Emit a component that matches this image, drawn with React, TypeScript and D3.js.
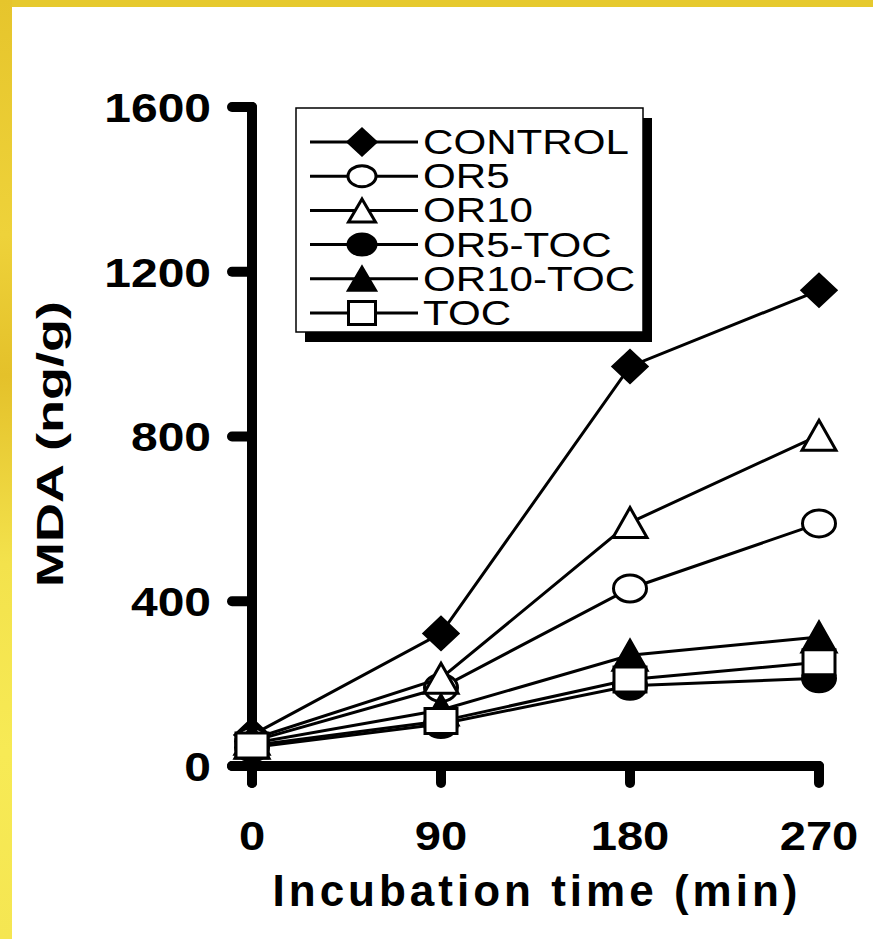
import React from 'react';
import * as d3 from 'd3';

const times = [0, 90, 180, 270];
const xTickLabels = ['0', '90', '180', '270'];
const yTicks = [0, 400, 800, 1200, 1600];

const seriesNames = ['CONTROL', 'OR5', 'OR10', 'OR5-TOC', 'OR10-TOC', 'TOC'];
const control = [75, 322, 970, 1155];
const or5 = [60, 190, 431, 589];
const or10 = [65, 213, 591, 803];
const or5toc = [45, 102, 195, 213];
const or10toc = [55, 136, 269, 313];
const toc = [50, 109, 210, 252];
const seriesValues = [control, or5, or10, or5toc, or10toc, toc];
const markerTypes = ['diamond', 'circle', 'triangle', 'circle', 'triangle', 'square'];
const markerFilled = [true, false, false, true, true, false];

const FONT = 'Arial, "Liberation Sans", sans-serif';
// the original figure is stretched sideways a little
const SX = 1.17;

// marker outline centred on 0,0, w x h box
const markerPath = (type: string, w: number, h: number) => {
  const a = w / 2;
  const b = h / 2;
  if (type === 'diamond') return `M0,${-b}L${a},0L0,${b}L${-a},0Z`;
  if (type === 'triangle') return `M0,${-b}L${a},${b}L${-a},${b}Z`;
  if (type === 'square') return `M${-a},${-b}H${a}V${b}H${-a}Z`;
  return `M${-a},0A${a},${b} 0 1,0 ${a},0A${a},${b} 0 1,0 ${-a},0Z`;
};

const markerSize = (type: string, legend: boolean) => {
  if (legend) {
    if (type === 'circle') return [28, 21];
    if (type === 'triangle') return [27, 23];
    if (type === 'square') return [27, 23];
    return [28, 26];
  }
  if (type === 'circle') return [33, 27];
  if (type === 'triangle') return [34, 30];
  if (type === 'square') return [32, 25];
  return [34, 32];
};

const Marker = ({ type, filled, x, y, legend }: any) => {
  const [w, h] = markerSize(type, legend);
  return (
    <path
      transform={`translate(${x},${y})`}
      d={markerPath(type, w, h)}
      fill={filled ? '#000' : '#fff'}
      stroke="#000"
      strokeWidth={3}
      strokeLinejoin="miter"
    />
  );
};

const App = () => {
  const width = 873;
  const height = 939;
  const x = d3.scaleLinear().domain([0, 270]).range([252, 819]);
  const y = d3.scaleLinear().domain([0, 1600]).range([766, 107]);
  const line = d3
    .line<number>()
    .x((_, i) => x(times[i]))
    .y((d) => y(d));

  const x0 = x(0);
  const y0 = y(0);
  const legendX = 296;
  const legendY = 108;
  const legendW = 347;
  const legendH = 224;
  const rowStep = 34.2;

  return (
    <svg
      width={width}
      height={height}
      style={{ position: 'absolute', left: 0, top: 0, background: '#fff' }}
    >
      <defs>
        <linearGradient id="leftBand" x1="0" y1="0" x2="0" y2="1">
          <stop offset="0" stopColor="#e6c52c" />
          <stop offset="0.25" stopColor="#eed23a" />
          <stop offset="0.4" stopColor="#e4c12a" />
          <stop offset="0.6" stopColor="#f3e24c" />
          <stop offset="0.8" stopColor="#f7ea55" />
          <stop offset="1" stopColor="#f5e652" />
        </linearGradient>
      </defs>
      <rect x={0} y={0} width={width} height={height} fill="#fff" />
      <rect x={0} y={0} width={width} height={7} fill="#e6c92e" />
      <rect x={0} y={0} width={12} height={height} fill="url(#leftBand)" />

      {/* axes */}
      <g stroke="#000" strokeWidth={10} strokeLinecap="round" strokeLinejoin="round" fill="none">
        <path d={`M${x0},${y(1600)}V${y0 + 17}`} />
        <path d={`M${x0 - 20},${y0}H${x(270)}`} />
        {yTicks.map((t) => (
          <path key={t} d={`M${x0 - 20},${y(t)}H${x0}`} />
        ))}
        {times.map((t) => (
          <path key={t} d={`M${x(t)},${y0}V${y0 + 17}`} />
        ))}
      </g>

      {/* tick labels */}
      <g fontFamily={FONT} fontWeight="bold" fontSize={41} fill="#000">
        {yTicks.map((t) => (
          <g key={t} transform={`translate(211,${y(t)}) scale(${SX},1)`}>
            <text dy="0.36em" textAnchor="end">
              {t}
            </text>
          </g>
        ))}
        {times.map((t, i) => (
          <g key={t} transform={`translate(${x(t)},850) scale(${SX - 0.02},1)`}>
            <text textAnchor="middle">{xTickLabels[i]}</text>
          </g>
        ))}
      </g>

      <text
        x={537}
        y={906}
        textAnchor="middle"
        fontFamily={FONT}
        fontWeight="bold"
        fontSize={44}
        letterSpacing={4}
      >
        Incubation time (min)
      </text>
      <g transform="translate(63,444) scale(0.68,1) rotate(-90)">
        <text textAnchor="middle" fontFamily={FONT} fontWeight="bold" fontSize={54}>
          MDA (ng/g)
        </text>
      </g>

      {/* legend */}
      <rect x={legendX + 9} y={legendY + 10} width={legendW} height={legendH} fill="#000" />
      <rect
        x={legendX}
        y={legendY}
        width={legendW}
        height={legendH}
        fill="#fff"
        stroke="#000"
        strokeWidth={1.5}
      />
      {seriesNames.map((name, i) => {
        const ry = legendY + 34 + i * rowStep;
        return (
          <g key={name}>
            <line x1={310} x2={418} y1={ry} y2={ry} stroke="#000" strokeWidth={3} />
            <Marker type={markerTypes[i]} filled={markerFilled[i]} x={362} y={ry} legend />
            <g transform={`translate(423,${ry + 12}) scale(1.17,1)`}>
              <text fontFamily={FONT} fontSize={36}>
                {name}
              </text>
            </g>
          </g>
        );
      })}

      {/* series */}
      {seriesValues.map((vals, i) => (
        <g key={seriesNames[i]}>
          <path d={line(vals) || ''} fill="none" stroke="#000" strokeWidth={3} />
          {vals.map((v, j) => (
            <Marker
              key={j}
              type={markerTypes[i]}
              filled={markerFilled[i]}
              x={x(times[j])}
              y={y(v)}
            />
          ))}
        </g>
      ))}
    </svg>
  );
};

export default App;
